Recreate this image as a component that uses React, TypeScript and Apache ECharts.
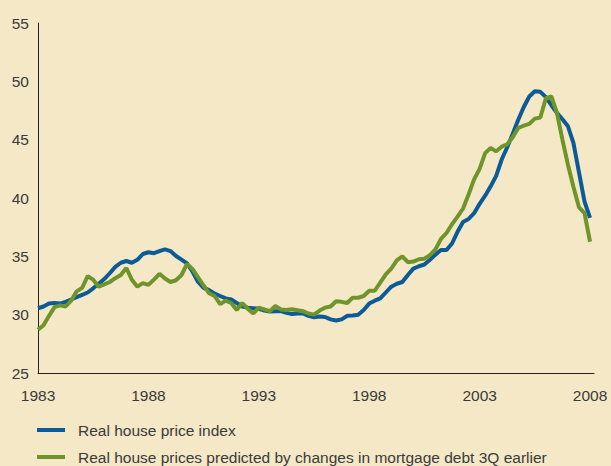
import React, { useEffect, useRef } from "react";
import * as echarts from "echarts";

const startYear = 1983;
const xTicks = [1983, 1988, 1993, 1998, 2003, 2008];
const yTicks = [25, 30, 35, 40, 45, 50, 55];

const seriesNames = [
  "Real house price index",
  "Real house prices predicted by changes in mortgage debt 3Q earlier",
];

// Quarterly values, 1983Q1 .. 2008Q1
const realIndex = [
  30.55, 30.7, 30.95, 31.0, 30.95, 31.1, 31.3, 31.5, 31.7, 31.9,
  32.26, 32.65, 33.05, 33.55, 34.1, 34.45, 34.6, 34.45, 34.7, 35.2,
  35.35, 35.27, 35.45, 35.6, 35.45, 35.03, 34.72, 34.4, 33.68, 32.8,
  32.3, 32.1, 31.8, 31.6, 31.4, 31.3, 31.0, 30.7, 30.6, 30.55,
  30.5, 30.35, 30.27, 30.3, 30.3, 30.15, 30.05, 30.1, 30.1, 29.9,
  29.77, 29.85, 29.8, 29.6, 29.5, 29.6, 29.9, 29.93, 30.0, 30.4,
  30.95, 31.2, 31.4, 31.9, 32.4, 32.65, 32.8, 33.4, 33.95, 34.15,
  34.3, 34.7, 35.15, 35.54, 35.54, 36.1, 37.1, 37.95, 38.2, 38.7,
  39.5, 40.2, 41.0, 41.9, 43.3, 44.35, 45.5, 46.7, 47.8, 48.7,
  49.15, 49.1, 48.65, 47.95, 47.3, 46.75, 46.15, 44.7, 42.2, 39.7,
  38.3,
];

const predicted = [
  28.7, 29.1, 29.9, 30.65, 30.8, 30.7, 31.2, 32.0, 32.3, 33.3,
  33.0, 32.4, 32.6, 32.8, 33.13, 33.4, 34.0, 33.0, 32.4, 32.7,
  32.55, 33.0, 33.5, 33.1, 32.8, 32.95, 33.4, 34.35, 33.9, 33.2,
  32.5, 31.83, 31.6, 30.9, 31.2, 31.0, 30.4, 31.0, 30.5, 30.1,
  30.6, 30.45, 30.3, 30.74, 30.45, 30.4, 30.46, 30.38, 30.3, 30.1,
  30.0, 30.35, 30.6, 30.7, 31.15, 31.1, 31.0, 31.45, 31.45, 31.6,
  32.05, 32.05, 32.75, 33.45, 33.95, 34.65, 35.0, 34.5, 34.55, 34.75,
  34.8, 35.1, 35.6, 36.5, 37.0, 37.75, 38.4, 39.1, 40.3, 41.6,
  42.5, 43.85, 44.3, 44.0, 44.4, 44.6, 45.2, 46.0, 46.2, 46.35,
  46.8, 46.9, 48.55, 48.7, 47.3, 45.0, 42.85, 40.95, 39.2, 38.7,
  36.25,
];

const toPoints = (vals: number[]) => vals.map((v, i) => [startYear + i / 4, v]);

export default function App() {
  const ref = useRef<HTMLDivElement>(null);
  useEffect(() => {
    if (!ref.current) return;
    const chart = echarts.init(ref.current, undefined, { renderer: "svg" });
    const font = "Liberation Sans, Arial, Helvetica, sans-serif";
    const textColor = "#3a3a3a";
    const legendBase = {
      left: 32,
      itemWidth: 28,
      itemHeight: 4,
      icon: "rect",
      selectedMode: false,
      textStyle: { color: textColor, fontSize: 15.5, fontFamily: font, padding: [0, 0, 0, 8] },
    };
    chart.setOption({
      animation: false,
      backgroundColor: "#f5e8c7",
      textStyle: { fontFamily: font },
      grid: { left: 38, right: 17, top: 23, bottom: 93, containLabel: false },
      xAxis: {
        type: "value",
        min: xTicks[0],
        max: xTicks[xTicks.length - 1] + 0.18,
        interval: 5,
        axisLine: { show: true, lineStyle: { color: "#222", width: 1 } },
        axisTick: { show: false },
        splitLine: { show: false },
        axisLabel: {
          color: textColor,
          fontSize: 15.5,
          fontFamily: font,
          margin: 14,
          showMaxLabel: false,
          formatter: (v: number) =>
            xTicks.some((t) => Math.abs(t - v) < 1e-6) ? String(Math.round(v)) : "",
        },
      },
      yAxis: {
        type: "value",
        min: yTicks[0],
        max: yTicks[yTicks.length - 1],
        interval: 5,
        axisLine: { show: true, lineStyle: { color: "#222", width: 1 } },
        axisTick: { show: false },
        splitLine: { show: false },
        axisLabel: { color: textColor, fontSize: 15.5, fontFamily: font, margin: 9 },
      },
      legend: [
        { ...legendBase, top: 417, data: [seriesNames[0]] },
        { ...legendBase, top: 444, data: [seriesNames[1]] },
      ],
      series: [
        {
          name: seriesNames[0],
          type: "line",
          data: toPoints(realIndex),
          showSymbol: false,
          symbol: "none",
          color: "#0a5b98",
          lineStyle: { width: 4, color: "#0a5b98" },
          z: 2,
        },
        {
          name: seriesNames[1],
          type: "line",
          data: toPoints(predicted),
          showSymbol: false,
          symbol: "none",
          color: "#6f952a",
          lineStyle: { width: 4, color: "#6f952a" },
          z: 3,
        },
      ],
    });
    return () => chart.dispose();
  }, []);
  return (
    <div
      ref={ref}
      style={{ position: "fixed", left: 0, top: 0, width: 611, height: 466 }}
    />
  );
}
